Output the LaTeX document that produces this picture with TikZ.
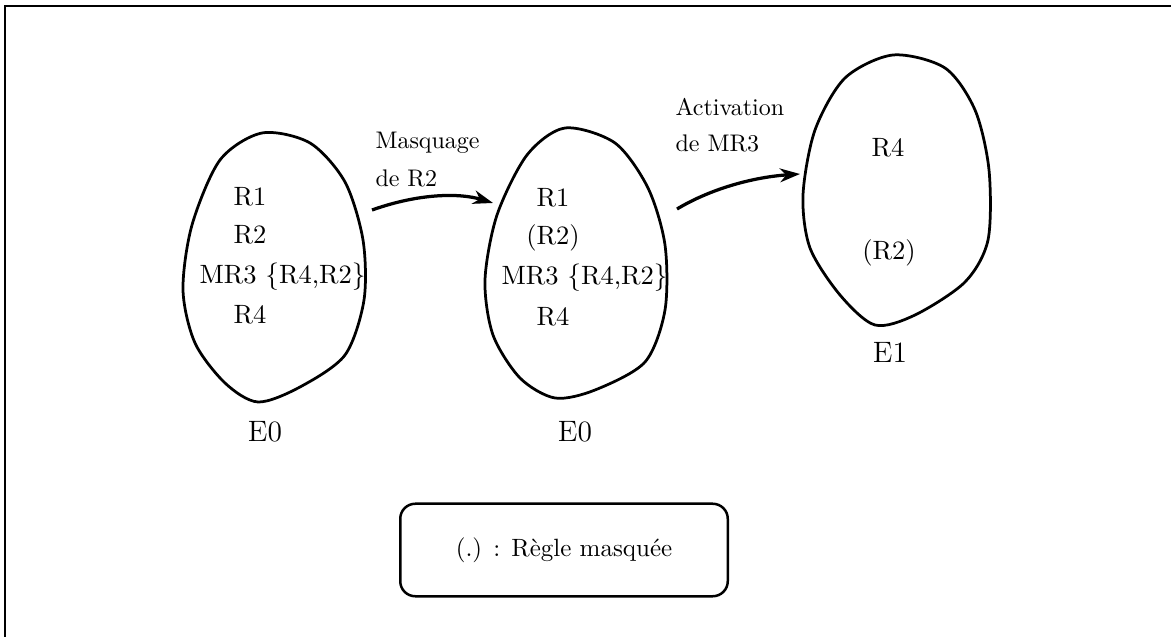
\documentclass[tikz,border=0pt]{standalone}
\usepackage{tikz}
\usetikzlibrary{positioning,arrows.meta}

\begin{document}
\begin{tikzpicture}[x=0.4pt,y=-0.4pt,
    blob/.style={line width=1.1pt,line join=round},
    rulename/.style={font=\fontsize{10.6}{12}\selectfont,inner sep=0pt},
    statename/.style={font=\fontsize{11.8}{13}\selectfont,inner sep=0pt},
    steplabel/.style={font=\fontsize{9.6}{11}\selectfont,inner sep=0pt,anchor=west},
    trans/.style={line width=1.3pt,-{Stealth[length=8pt,width=5.5pt,inset=2.5pt]}}]
  \useasboundingbox (0,0) rectangle (1171,637);
  % cropped frame (top and left sides only)
  \draw[line width=0.8pt] (5,637) -- (5,6) -- (1171,6);
  % state E0 before masking
  \draw[blob] plot[smooth cycle] coordinates {(262,133) (310,143) (345,182) (363,240) (364,300) (345,355) (300,387) (258,402) (225,383) (195,343) (183,290) (192,225) (220,160)};
  \node[rulename] (a1) at (250,197) {R1};
  \node[rulename] (a2) at (250,235) {R2};
  \node[rulename,anchor=west] (a3) at (199,277) {MR3 $\{$R4,R2$\}$};
  \node[rulename] (a4) at (250,315) {R4};
  \node[statename] (ea) at (265,432) {E0};
  % state E0 after masking
  \draw[blob] plot[smooth cycle] coordinates {(565,128) (615,143) (648,188) (665,245) (665,310) (645,362) (595,390) (555,398) (520,378) (493,335) (485,280) (497,215) (527,155)};
  \node[rulename] (b1) at (553,198) {R1};
  \node[rulename] (b2) at (553,238) {(R2)};
  \node[rulename,anchor=west] (b3) at (501,278) {MR3 $\{$R4,R2$\}$};
  \node[rulename] (b4) at (553,317) {R4};
  \node[statename] (eb) at (575,432) {E0};
  % state E1
  \draw[blob] plot[smooth cycle] coordinates {(893,55) (945,68) (975,110) (989,170) (988,240) (965,282) (915,315) (875,325) (840,295) (810,248) (803,195) (815,130) (845,78)};
  \node[rulename] (c1) at (888,148) {R4};
  \node[rulename] (c2) at (889,253) {(R2)};
  \node[statename] (ec) at (890,352) {E1};
  % transitions
  \coordinate (m1s) at (372,210);
  \coordinate (m1e) at (493,203);
  \coordinate (m2s) at (677,209);
  \coordinate (m2e) at (800,174);
  \draw[trans] (m1s) .. controls (420,193) and (460,193) .. (m1e);
  \draw[trans] (m2s) .. controls (712,188) and (755,177) .. (m2e);
  \node[steplabel] (l1) at (375,143) {Masquage};
  \node[steplabel] (l2) at (375,178) {de R2};
  \node[steplabel] (l3) at (675,107) {Activation};
  \node[steplabel] (l4) at (675,143) {de MR3};
  % legend
  \node[draw,line width=1pt,rounded corners=6pt,minimum width=131pt,minimum height=37pt,
        font=\fontsize{10}{12}\selectfont] (key) at (564,550) {(.) : Règle masquée};
\end{tikzpicture}
\end{document}
